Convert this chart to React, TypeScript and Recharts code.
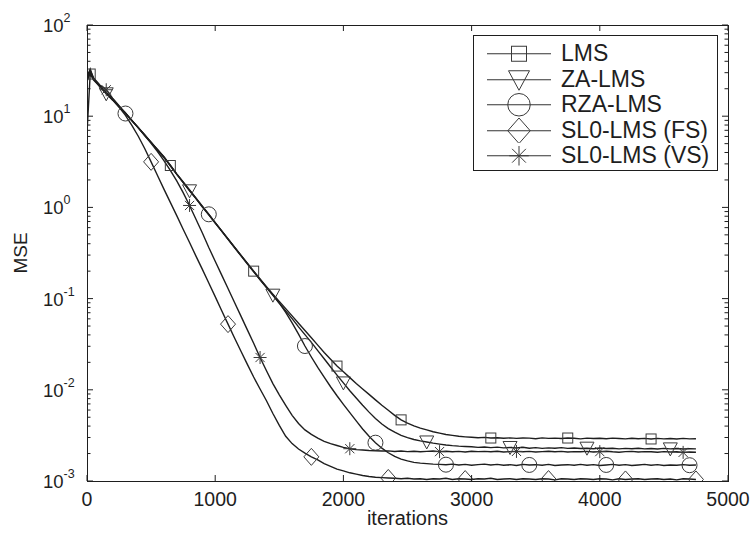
import React from "react";
import { LineChart, Line, XAxis, YAxis } from "recharts";

const iterations = [
  0, 25, 50, 100, 150, 200, 250, 300, 350, 400,
  450, 500, 550, 600, 650, 700, 750, 800, 850, 900,
  950, 1000, 1050, 1100, 1150, 1200, 1250, 1300, 1350, 1400,
  1450, 1500, 1550, 1600, 1650, 1700, 1750, 1800, 1850, 1900,
  1950, 2000, 2050, 2100, 2150, 2200, 2250, 2300, 2350, 2400,
  2450, 2500, 2550, 2600, 2650, 2700, 2750, 2800, 2850, 2900,
  2950, 3000, 3050, 3100, 3150, 3200, 3250, 3300, 3350, 3400,
  3450, 3500, 3550, 3600, 3650, 3700, 3750, 3800, 3850, 3900,
  3950, 4000, 4050, 4100, 4150, 4200, 4250, 4300, 4350, 4400,
  4450, 4500, 4550, 4600, 4650, 4700, 4750,
];

const lms = [
  6.5, 29, 25.1, 21.2, 17.9, 15.1, 12.8, 10.8, 8.97, 7.46,
  6.21, 5.16, 4.3, 3.55, 2.88, 2.32, 1.89, 1.54, 1.26, 1.02,
  0.834, 0.679, 0.553, 0.451, 0.367, 0.299, 0.244, 0.2, 0.164, 0.135,
  0.112, 0.0933, 0.0776, 0.0646, 0.0537, 0.0447, 0.0372, 0.0309, 0.0257, 0.0216,
  0.0182, 0.0158, 0.0136, 0.0117, 0.0102, 0.00891, 0.00776, 0.00676, 0.00596, 0.00525,
  0.00468, 0.00432, 0.00403, 0.0038, 0.00363, 0.00347, 0.00335, 0.00324, 0.00316, 0.00309,
  0.00305, 0.00302, 0.00298, 0.00301, 0.00296, 0.00298, 0.00294, 0.00297, 0.00293, 0.00296,
  0.00295, 0.00291, 0.00297, 0.00293, 0.00295, 0.00292, 0.00296, 0.00294, 0.0029, 0.00295,
  0.00292, 0.00294, 0.00291, 0.00295, 0.00292, 0.0029, 0.00294, 0.00291, 0.00293, 0.00289,
  0.00293, 0.0029, 0.00292, 0.00289, 0.00293, 0.0029, 0.00291,
];

const zaLms = [
  27, 33, 26, 21, 17.6, 15, 12.6, 10.9, 8.9, 7.5,
  6.15, 5.2, 4.25, 3.55, 2.86, 2.3, 1.87, 1.52, 1.25, 1.01,
  0.83, 0.675, 0.55, 0.448, 0.363, 0.296, 0.241, 0.197, 0.161, 0.132,
  0.109, 0.0891, 0.0733, 0.0603, 0.049, 0.0403, 0.0331, 0.0269, 0.0219, 0.0178,
  0.0145, 0.0119, 0.00977, 0.00813, 0.00676, 0.00569, 0.00484, 0.00422, 0.00376, 0.00343,
  0.00316, 0.00299, 0.00285, 0.00275, 0.00268, 0.0026, 0.00254, 0.00248, 0.00244, 0.00241,
  0.00239, 0.00237, 0.00234, 0.00236, 0.00232, 0.00235, 0.00231, 0.00233, 0.0023, 0.00234,
  0.00229, 0.00232, 0.00228, 0.00231, 0.00229, 0.00232, 0.00228, 0.0023, 0.00227, 0.00229,
  0.00226, 0.0023, 0.00227, 0.00229, 0.00225, 0.00228, 0.00226, 0.00229, 0.00225, 0.00227,
  0.00224, 0.00228, 0.00225, 0.00227, 0.00224, 0.00226, 0.00225,
];

const rzaLms = [
  25, 31, 25.5, 21.5, 18.2, 15.3, 12.9, 10.7, 9, 7.5,
  6.25, 5.15, 4.32, 3.6, 2.9, 2.33, 1.9, 1.55, 1.26, 1.03,
  0.84, 0.68, 0.555, 0.45, 0.368, 0.3, 0.245, 0.199, 0.162, 0.133,
  0.11, 0.089, 0.0708, 0.0543, 0.0407, 0.0302, 0.0229, 0.0176, 0.0138, 0.0108,
  0.0086, 0.00692, 0.00562, 0.00457, 0.00372, 0.00309, 0.00263, 0.00229, 0.00204, 0.00186,
  0.00174, 0.00166, 0.0016, 0.00157, 0.00155, 0.00153, 0.00152, 0.00151, 0.00153, 0.0015,
  0.00152, 0.00149, 0.00151, 0.00153, 0.0015, 0.00152, 0.00149, 0.00151, 0.00148, 0.00152,
  0.0015, 0.00151, 0.00149, 0.00152, 0.00148, 0.0015, 0.00151, 0.00149, 0.00152, 0.00149,
  0.00151, 0.00148, 0.0015, 0.00152, 0.00149, 0.00151, 0.00148, 0.0015, 0.00152, 0.00149,
  0.00151, 0.00148, 0.0015, 0.00149, 0.00151, 0.00149, 0.0015,
];

const sl0Fs = [
  24, 30, 25.8, 21.6, 18, 15.2, 12.6, 10.2, 7.94, 6.03,
  4.42, 3.16, 2.24, 1.585, 1.135, 0.813, 0.575, 0.412, 0.292, 0.209,
  0.148, 0.105, 0.0741, 0.0525, 0.0372, 0.0266, 0.0191, 0.0138, 0.0102, 0.00759,
  0.0055, 0.00407, 0.00309, 0.00257, 0.00224, 0.00202, 0.00184, 0.0017, 0.00155, 0.00145,
  0.00135, 0.00129, 0.00123, 0.00119, 0.00115, 0.00112, 0.0011, 0.00109, 0.00108, 0.00107,
  0.00106, 0.00107, 0.00105, 0.00106, 0.00104, 0.00106, 0.00105, 0.00107, 0.00104, 0.00106,
  0.00105, 0.00104, 0.00106, 0.00105, 0.00107, 0.00104, 0.00105, 0.00106, 0.00104, 0.00106,
  0.00105, 0.00104, 0.00106, 0.00105, 0.00103, 0.00106, 0.00105, 0.00104, 0.00106, 0.00105,
  0.00104, 0.00106, 0.00105, 0.00103, 0.00106, 0.00104, 0.00105, 0.00106, 0.00104, 0.00105,
  0.00106, 0.00104, 0.00105, 0.00103, 0.00106, 0.00105, 0.00104,
];

const sl0Vs = [
  26, 32, 26.5, 22, 19.5, 15.8, 13, 10.8, 9, 7.45,
  6.15, 5.05, 4.1, 3.25, 2.55, 1.95, 1.45, 1.05, 0.741, 0.525,
  0.363, 0.257, 0.182, 0.129, 0.0912, 0.0646, 0.0457, 0.0324, 0.0226, 0.0162,
  0.0117, 0.00881, 0.00676, 0.00525, 0.00427, 0.00363, 0.00324, 0.00295, 0.00272, 0.00257,
  0.00245, 0.00234, 0.00226, 0.00221, 0.00219, 0.00216, 0.00215, 0.00213, 0.00214, 0.00211,
  0.00213, 0.0021, 0.00212, 0.00209, 0.00211, 0.00213, 0.0021, 0.00212, 0.00209, 0.00211,
  0.00208, 0.00212, 0.0021, 0.00211, 0.00209, 0.00212, 0.00208, 0.0021, 0.00211, 0.00209,
  0.00211, 0.00208, 0.0021, 0.00212, 0.00209, 0.00211, 0.00208, 0.0021, 0.00209, 0.00211,
  0.00208, 0.0021, 0.00212, 0.00209, 0.00207, 0.0021, 0.00211, 0.00208, 0.0021, 0.00209,
  0.00207, 0.0021, 0.00208, 0.00209, 0.00206, 0.00208, 0.00207,
];

// iterations where a marker is drawn on each curve
const lmsMarks = [25, 650, 1300, 1950, 2450, 3150, 3750, 4400];
const zaMarks = [150, 800, 1450, 2000, 2650, 3300, 3900, 4550];
const rzaMarks = [300, 950, 1700, 2250, 2800, 3450, 4050, 4700];
const fsMarks = [500, 1100, 1750, 2350, 2950, 3600, 4200, 4750];
const vsMarks = [150, 800, 1350, 2050, 2750, 3350, 4000, 4650];

const xTicks = [0, 1000, 2000, 3000, 4000, 5000];
const yMajor = [0.001, 0.01, 0.1, 1, 10, 100];
const yMinor = [
  0.002, 0.003, 0.004, 0.005, 0.006, 0.007, 0.008, 0.009,
  0.02, 0.03, 0.04, 0.05, 0.06, 0.07, 0.08, 0.09,
  0.2, 0.3, 0.4, 0.5, 0.6, 0.7, 0.8, 0.9,
  2, 3, 4, 5, 6, 7, 8, 9,
  20, 30, 40, 50, 60, 70, 80, 90,
];
const yTicks = [...yMajor, ...yMinor].sort((a, b) => a - b);

const data = iterations.map((it, i) => ({
  it,
  lms: lms[i],
  za: zaLms[i],
  rza: rzaLms[i],
  fs: sl0Fs[i],
  vs: sl0Vs[i],
}));

type Kind = "square" | "triangle" | "circle" | "diamond" | "star";

const series: { key: string; name: string; kind: Kind; marks: number[] }[] = [
  { key: "lms", name: "LMS", kind: "square", marks: lmsMarks },
  { key: "za", name: "ZA-LMS", kind: "triangle", marks: zaMarks },
  { key: "rza", name: "RZA-LMS", kind: "circle", marks: rzaMarks },
  { key: "fs", name: "SL0-LMS (FS)", kind: "diamond", marks: fsMarks },
  { key: "vs", name: "SL0-LMS (VS)", kind: "star", marks: vsMarks },
];

const W = 753;
const H = 533;
const MARGIN = { top: 25, right: 25, bottom: 0, left: 8 };
const X_AXIS_H = 52;
const Y_AXIS_W = 79;
const PLOT = {
  left: MARGIN.left + Y_AXIS_W,
  top: MARGIN.top,
  width: W - MARGIN.left - Y_AXIS_W - MARGIN.right,
  height: H - MARGIN.top - MARGIN.bottom - X_AXIS_H,
};
const PLOT_RIGHT = PLOT.left + PLOT.width;

const FONT = '"Liberation Sans", Arial, Helvetica, sans-serif';
const INK = "#1e1e1e";
const MARK = "#3a3a3a";
const isMajor = (v: number) => yMajor.includes(v);

function Marker({ kind, cx, cy, s = 1 }: { kind: Kind; cx: number; cy: number; s?: number }) {
  const st = { fill: "none", stroke: MARK, strokeWidth: 1 };
  if (kind === "square")
    return <rect x={cx - 5 * s} y={cy - 5 * s} width={10 * s} height={10 * s} {...st} />;
  if (kind === "triangle")
    return (
      <polygon
        points={`${cx - 7 * s},${cy - 6 * s} ${cx + 7 * s},${cy - 6 * s} ${cx},${cy + 7 * s}`}
        {...st}
      />
    );
  if (kind === "circle") return <circle cx={cx} cy={cy} r={7.5 * s} {...st} />;
  if (kind === "diamond")
    return (
      <polygon
        points={`${cx},${cy - 8.5 * s} ${cx + 7.5 * s},${cy} ${cx},${cy + 8.5 * s} ${cx - 7.5 * s},${cy}`}
        {...st}
      />
    );
  const a = 6.5 * s;
  const d = 4.6 * s;
  return (
    <path
      d={`M${cx - a},${cy}H${cx + a}M${cx},${cy - a}V${cy + a}M${cx - d},${cy - d}L${cx + d},${cy + d}M${cx - d},${cy + d}L${cx + d},${cy - d}`}
      {...st}
    />
  );
}

const makeDot = (kind: Kind, marks: number[]) => (p: any) => {
  const k = `${kind}-${p.index}`;
  if (p.cx == null || p.cy == null || !marks.includes(p.payload.it)) return <g key={k} />;
  return (
    <g key={k}>
      <Marker kind={kind} cx={p.cx} cy={p.cy} />
    </g>
  );
};

// x ticks: label below, inward tick at the bottom and at the top of the box
const XTick = (p: any) => (
  <g>
    <line x1={p.x} y1={PLOT.top + PLOT.height} x2={p.x} y2={PLOT.top + PLOT.height - 6} stroke={INK} strokeWidth={1} />
    <line x1={p.x} y1={PLOT.top} x2={p.x} y2={PLOT.top + 6} stroke={INK} strokeWidth={1} />
    <text x={p.x} y={p.y + 25} textAnchor="middle" fill={INK} fontFamily={FONT} fontSize={19.5}>
      {p.payload.value}
    </text>
  </g>
);

// y ticks: 10^n labels on decades, inward ticks on both sides of the box
const YTick = (p: any) => {
  const v = p.payload.value;
  const len = isMajor(v) ? 6 : 3.5;
  return (
    <g>
      <line x1={PLOT.left} y1={p.y} x2={PLOT.left + len} y2={p.y} stroke={INK} strokeWidth={1} />
      <line x1={PLOT_RIGHT} y1={p.y} x2={PLOT_RIGHT - len} y2={p.y} stroke={INK} strokeWidth={1} />
      {isMajor(v) && (
        <text x={PLOT.left - 44} y={p.y + 7} fill={INK} fontFamily={FONT} fontSize={18.5}>
          10
          <tspan dy={-10} fontSize={12.5}>
            {Math.round(Math.log10(v))}
          </tspan>
        </text>
      )}
    </g>
  );
};

const YTitle = (p: any) => {
  const vb = p.viewBox;
  const x = vb.x + 19;
  const y = vb.y + vb.height / 2;
  return (
    <text
      x={x}
      y={y}
      transform={`rotate(-90, ${x}, ${y})`}
      textAnchor="middle"
      fill={INK}
      fontFamily={FONT}
      fontSize={19}
    >
      MSE
    </text>
  );
};

const XTitle = (p: any) => {
  const vb = p.viewBox;
  return (
    <text
      x={vb.x + vb.width / 2}
      y={vb.y + 44}
      textAnchor="middle"
      fill={INK}
      fontFamily={FONT}
      fontSize={20}
    >
      iterations
    </text>
  );
};

const Legend = () => (
  <div
    style={{
      position: "absolute",
      left: 473,
      top: 35,
      width: 245,
      height: 136,
      boxSizing: "border-box",
      border: `1px solid ${INK}`,
      background: "#fff",
      paddingTop: 5,
      fontFamily: FONT,
      fontSize: 23,
      color: INK,
    }}
  >
    {series.map((s) => (
      <div key={s.key} style={{ display: "flex", alignItems: "center", height: 25.5 }}>
        <svg width={87} height={25.5} style={{ flex: "none" }}>
          <line x1={13} y1={12.75} x2={77} y2={12.75} stroke="#333" strokeWidth={1} />
          <Marker kind={s.kind} cx={45} cy={12.75} s={1.5} />
        </svg>
        <span style={{ lineHeight: "25px", whiteSpace: "nowrap" }}>{s.name}</span>
      </div>
    ))}
  </div>
);

export default function App() {
  return (
    <div style={{ position: "absolute", left: 0, top: 0, width: W, height: H, background: "#fff" }}>
      <LineChart width={W} height={H} data={data} margin={MARGIN}>
        <XAxis
          dataKey="it"
          type="number"
          domain={[0, 5000]}
          allowDataOverflow
          ticks={xTicks}
          interval={0}
          height={X_AXIS_H}
          tickSize={0}
          tickMargin={0}
          tickLine={false}
          axisLine={false}
          tick={XTick}
          label={{ content: XTitle }}
        />
        <YAxis
          scale="log"
          type="number"
          domain={[0.001, 100]}
          allowDataOverflow
          ticks={yTicks}
          interval={0}
          width={Y_AXIS_W}
          tickSize={0}
          tickMargin={0}
          tickLine={false}
          axisLine={false}
          tick={YTick}
          label={{ content: YTitle }}
        />
        {series.map((s) => (
          <Line
            key={s.key}
            dataKey={s.key}
            type="linear"
            stroke={INK}
            strokeWidth={1.4}
            dot={makeDot(s.kind, s.marks)}
            activeDot={false}
            isAnimationActive={false}
          />
        ))}
      </LineChart>
      {/* axes box */}
      <div
        style={{
          position: "absolute",
          left: PLOT.left,
          top: PLOT.top,
          width: PLOT.width + 1,
          height: PLOT.height + 1,
          boxSizing: "border-box",
          border: `1px solid ${INK}`,
          pointerEvents: "none",
        }}
      />
      <Legend />
    </div>
  );
}
